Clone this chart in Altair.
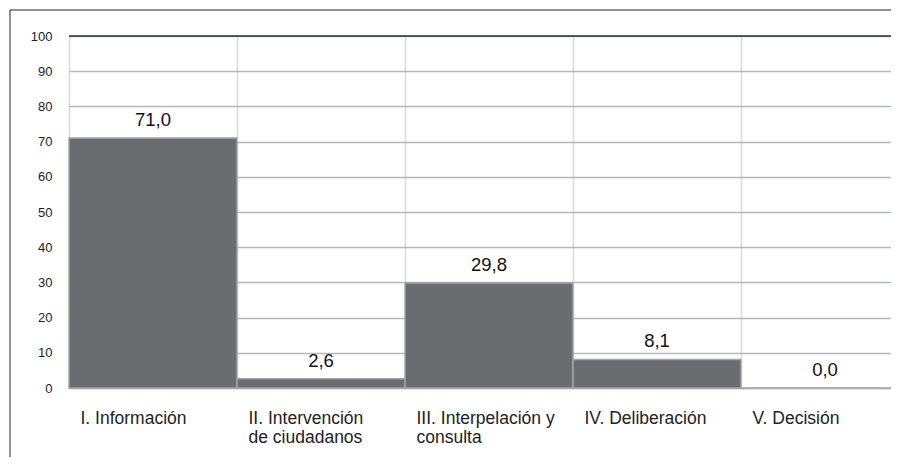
import altair as alt
import pandas as pd

categories = [
    "I. Información",
    "II. Intervención\nde ciudadanos",
    "III. Interpelación y\nconsulta",
    "IV. Deliberación",
    "V. Decisión",
]
values = [71.0, 2.6, 29.8, 8.1, 0.0]
y_ticks = [0, 10, 20, 30, 40, 50, 60, 70, 80, 90, 100]

df = pd.DataFrame({"cat": categories, "val": values})
df["label"] = [f"{v:.1f}".replace(".", ",") for v in values]

FONT = "Liberation Sans"

x_scale = alt.Scale(range=[0, 840], paddingInner=0, paddingOuter=0)
y_scale = alt.Scale(domain=[0, 100], nice=False)

x_axis = alt.Axis(
    labelAngle=0,
    labelAlign="left",
    labelOffset=-73,
    labelBaseline="top",
    labelPadding=21,
    labelExpr="split(datum.label, '\\n')",
    labelLineHeight=19,
    labelFontSize=17.5,
    labelColor="#222222",
    labelLimit=0,
    labelOverlap=False,
    labelFlush=False,
    ticks=False,
    tickBand="extent",
    domainColor="#bdbfc1",
    domainWidth=1.5,
    grid=True,
    gridColor="#d9d9d9",
    gridWidth=1.5,
)
y_axis = alt.Axis(
    values=y_ticks,
    domain=False,
    ticks=False,
    grid=True,
    gridColor="#b5b8bb",
    gridWidth=1.5,
    labelFontSize=13,
    labelPadding=17,
    labelColor="#222222",
    labelOverlap=False,
    labelFlush=False,
)

x_enc = alt.X("cat:N", sort=categories, title=None, scale=x_scale, axis=x_axis)
y_enc = alt.Y("val:Q", title=None, scale=y_scale, axis=y_axis)

bars = alt.Chart(df).mark_bar(
    fill="#6b6c70", stroke="#a3a5a8", strokeWidth=1.5
).encode(x=x_enc, y=y_enc)

texts = alt.Chart(df).mark_text(
    dy=-12, baseline="alphabetic", fontSize=18.5, color="#111111"
).encode(x=x_enc, y=y_enc, text="label:N")

top_line = alt.Chart(pd.DataFrame({"val": [100]})).mark_rule(
    color="#2e2e2e", strokeWidth=1.3
).encode(y=y_enc)

one = pd.DataFrame({"a": [0]})
frame_top = alt.Chart(one).mark_rule(color="#222222", strokeWidth=1).encode(
    x=alt.value(-59), x2=alt.value(900), y=alt.value(-26)
)
frame_left = alt.Chart(one).mark_rule(color="#222222", strokeWidth=1).encode(
    x=alt.value(-59), y=alt.value(-26), y2=alt.value(500)
)

chart = (
    alt.layer(bars, texts, top_line, frame_top, frame_left)
    .properties(
        width=822,
        height=352,
        autosize="none",
        padding={"left": 61, "top": 28, "right": 0, "bottom": 69},
    )
    .configure(font=FONT)
    .configure_view(stroke=None)
)

chart.save("out.html", embed_options={"renderer": "svg", "actions": False})
